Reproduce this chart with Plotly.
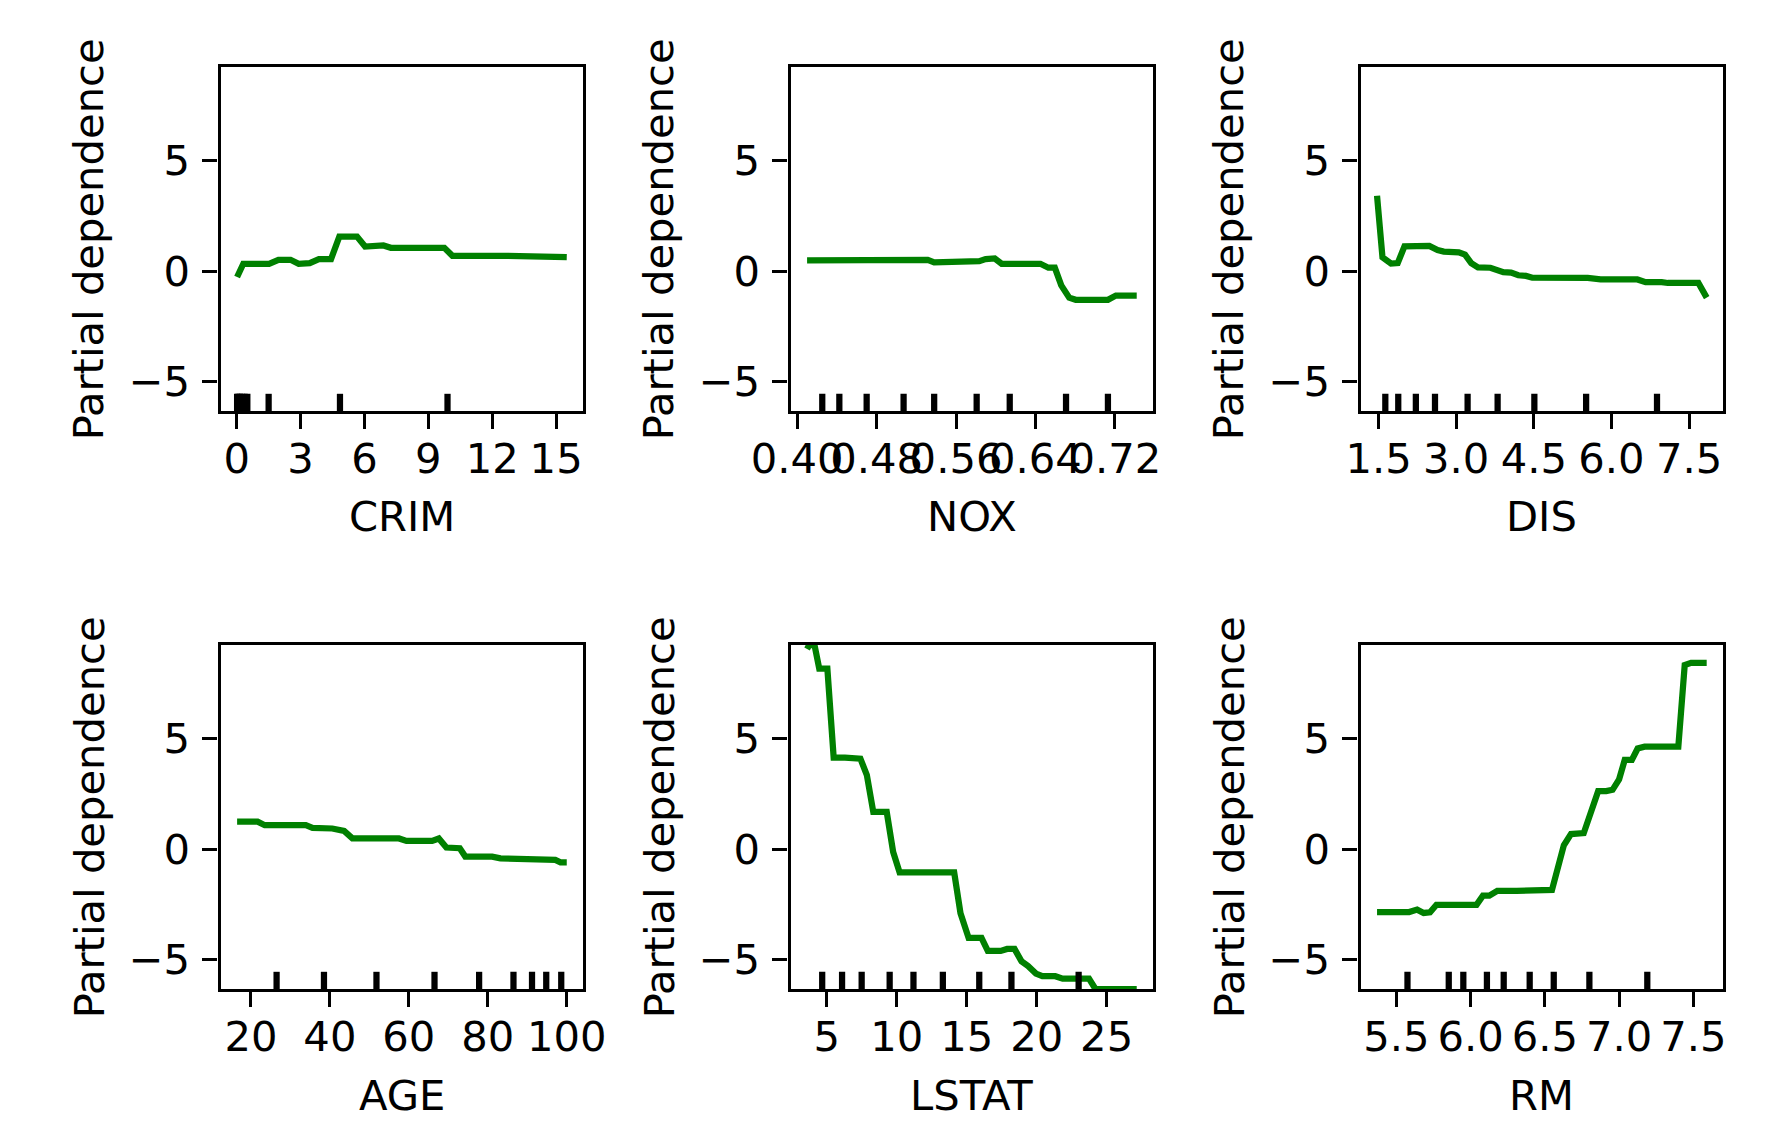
import plotly.graph_objects as go

# partial dependence curves (x, y per feature)
crim_x = [0.02, 0.31, 1.52, 1.96, 2.53, 2.91, 3.43, 3.86, 4.43, 4.82, 5.65, 6.03, 6.89, 7.24, 9.75, 10.13, 12.61, 13.48, 13.86, 15.5]
crim_y = [-0.27, 0.33, 0.33, 0.51, 0.51, 0.33, 0.36, 0.54, 0.54, 1.56, 1.56, 1.11, 1.16, 1.05, 1.05, 0.69, 0.69, 0.66, 0.63, 0.63]
crim_deciles = [0.02, 0.08, 0.15, 0.25, 0.37, 0.5, 1.5, 4.85, 9.9]

nox_x = [0.41, 0.4926, 0.5315, 0.538, 0.5704, 0.5834, 0.5898, 0.599, 0.606, 0.6157, 0.645, 0.653, 0.6595, 0.666, 0.674, 0.6806, 0.713, 0.721, 0.742]
nox_y = [0.48, 0.48, 0.51, 0.39, 0.39, 0.45, 0.54, 0.57, 0.33, 0.33, 0.33, 0.15, 0.15, -0.65, -1.2, -1.3, -1.3, -1.11, -1.11]
nox_deciles = [0.4253, 0.4425, 0.47, 0.5072, 0.538, 0.5808, 0.6141, 0.6708, 0.713]

dis_x = [1.47, 1.575, 1.74, 1.87, 2.0, 2.48, 2.64, 2.76, 3.05, 3.17, 3.29, 3.42, 3.66, 3.91, 4.06, 4.2, 4.35, 4.47, 5.54, 5.79, 6.5, 6.66, 6.97, 7.09, 7.68, 7.84]
dis_y = [3.41, 0.62, 0.34, 0.36, 1.12, 1.14, 0.95, 0.88, 0.85, 0.74, 0.36, 0.17, 0.15, -0.05, -0.07, -0.19, -0.22, -0.3, -0.31, -0.38, -0.38, -0.5, -0.5, -0.54, -0.54, -1.2]
dis_deciles = [1.63, 1.88, 2.22, 2.59, 3.22, 3.8, 4.51, 5.51, 6.88]

age_x = [16.5, 21.7, 23.5, 33.9, 35.6, 40.6, 43.6, 45.7, 57.5, 59.4, 65.9, 67.6, 69.5, 72.9, 74.3, 81.1, 83.2, 93.3, 95.0, 97.1, 98.4, 100.0]
age_y = [1.24, 1.24, 1.08, 1.08, 0.96, 0.93, 0.82, 0.48, 0.48, 0.37, 0.37, 0.48, 0.07, 0.04, -0.34, -0.34, -0.42, -0.42, -0.49, -0.49, -0.6, -0.6]
age_deciles = [26.5, 38.5, 51.8, 66.5, 77.8, 86.5, 91.2, 94.8, 98.6]

lstat_x = [3.6, 3.75, 4.13, 4.47, 5.05, 5.5, 6.31, 6.88, 7.41, 7.87, 8.33, 9.29, 9.75, 10.21, 14.11, 14.56, 15.14, 16.06, 16.51, 17.43, 17.89, 18.42, 18.92, 19.38, 19.95, 20.41, 21.33, 21.86, 23.74, 24.2, 27.15]
lstat_y = [9.05, 9.23, 9.23, 8.16, 8.16, 4.14, 4.14, 4.09, 4.09, 3.35, 1.68, 1.68, -0.13, -1.06, -1.06, -2.9, -4.02, -4.02, -4.61, -4.61, -4.52, -4.52, -5.08, -5.29, -5.63, -5.75, -5.75, -5.86, -5.86, -6.33, -6.33]
lstat_deciles = [4.68, 6.1, 7.5, 9.5, 11.2, 13.3, 15.9, 18.2, 23.0]

rm_x = [5.37, 5.586, 5.64, 5.684, 5.727, 5.77, 6.04, 6.083, 6.126, 6.18, 6.31, 6.418, 6.548, 6.628, 6.676, 6.762, 6.859, 6.913, 6.956, 7.0, 7.038, 7.086, 7.125, 7.172, 7.399, 7.442, 7.485, 7.59]
rm_y = [-2.85, -2.85, -2.74, -2.89, -2.86, -2.52, -2.52, -2.11, -2.11, -1.89, -1.89, -1.85, -1.85, 0.17, 0.68, 0.72, 2.62, 2.62, 2.68, 3.15, 4.03, 4.03, 4.55, 4.63, 4.63, 8.32, 8.42, 8.42]
rm_deciles = [5.575, 5.853, 5.951, 6.11, 6.223, 6.398, 6.56, 6.8, 7.19]

features = ['CRIM', 'NOX', 'DIS', 'AGE', 'LSTAT', 'RM']
xticks = {
    'CRIM': [0, 3, 6, 9, 12, 15],
    'NOX': [0.40, 0.48, 0.56, 0.64, 0.72],
    'DIS': [1.5, 3.0, 4.5, 6.0, 7.5],
    'AGE': [20, 40, 60, 80, 100],
    'LSTAT': [5, 10, 15, 20, 25],
    'RM': [5.5, 6.0, 6.5, 7.0, 7.5],
}
xtick_fmt = {'CRIM': 'd', 'NOX': '.2f', 'DIS': '.1f', 'AGE': 'd', 'LSTAT': 'd', 'RM': '.1f'}
yticks = [-5, 0, 5]
ytick_text = ['\u22125', '0', '5']

curves = {
    'CRIM': (crim_x, crim_y, crim_deciles),
    'NOX': (nox_x, nox_y, nox_deciles),
    'DIS': (dis_x, dis_y, dis_deciles),
    'AGE': (age_x, age_y, age_deciles),
    'LSTAT': (lstat_x, lstat_y, lstat_deciles),
    'RM': (rm_x, rm_y, rm_deciles),
}

W, H = 1770, 1141
FONT = 'DejaVu Sans'
FS = 41.7
cols_px = [(179, 555), (770, 1146), (1361, 1737)]
rows_px = [(59, 403), (637, 981)]
AX_H = 344

# shared y limits, like sklearn: min / max over all curves
all_y = [v for f in features for v in curves[f][1]]
ylim = [min(all_y), max(all_y)]

fig = go.Figure()
layout = {}
for i, feat in enumerate(features):
    n = i + 1
    sfx = '' if n == 1 else str(n)
    xs, ys, dec = curves[feat]
    fig.add_trace(go.Scatter(x=xs, y=ys, mode='lines', line=dict(color='#008000', width=6.25),
                             xaxis='x' + sfx, yaxis='y' + sfx, showlegend=False))
    span = max(xs) - min(xs)
    c0, c1 = cols_px[i % 3]
    r0, r1 = rows_px[i // 3]
    common = dict(showline=True, mirror=True, linecolor='black', linewidth=3.3,
                  ticks='outside', ticklen=15, tickwidth=3.3, tickcolor='black',
                  showgrid=False, zeroline=False, tickfont=dict(family=FONT, size=FS, color='black'))
    layout['xaxis' + sfx] = dict(common, domain=[c0 / W, c1 / W], anchor='y' + sfx,
                                 range=[min(xs) - 0.05 * span, max(xs) + 0.05 * span],
                                 tickvals=xticks[feat], tickformat=xtick_fmt[feat], tickangle=0,
                                 ticklabelstandoff=-6)
    layout['yaxis' + sfx] = dict(common, domain=[1 - r1 / H, 1 - r0 / H], anchor='x' + sfx,
                                 range=ylim, tickvals=yticks, ticktext=ytick_text,
                                 ticklabelstandoff=4)
    # decile rug marks
    for d in dec:
        fig.add_shape(type='line', xref='x' + sfx, yref='y' + sfx + ' domain', x0=d, x1=d, y0=0, y1=0.05,
                      line=dict(color='black', width=6.25))
    fig.add_annotation(text=feat, xref='x' + sfx + ' domain', yref='y' + sfx + ' domain',
                       x=0.5, y=-106 / AX_H, showarrow=False, xanchor='center', yanchor='middle',
                       font=dict(family=FONT, size=FS, color='black'))
    fig.add_annotation(text='Partial dependence', xref='x' + sfx + ' domain', yref='y' + sfx + ' domain',
                       x=-0.362, y=0.5, textangle=-90, showarrow=False, xanchor='center', yanchor='middle',
                       font=dict(family=FONT, size=FS, color='black'))

fig.update_layout(**layout)
fig.update_layout(width=W, height=H, margin=dict(l=0, r=0, t=0, b=0),
                  paper_bgcolor='white', plot_bgcolor='white',
                  font=dict(family=FONT, size=FS, color='black'))

fig.write_html("out.html")
